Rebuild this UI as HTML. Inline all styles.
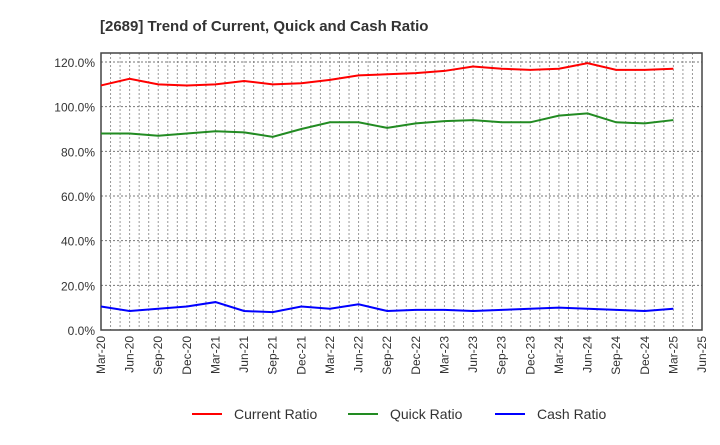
<!DOCTYPE html>
<html><head><meta charset="utf-8"><style>
body{margin:0;background:#fff;font-family:"Liberation Sans",Arial,sans-serif;}
svg text{font-family:"Liberation Sans",Arial,sans-serif;}
</style></head><body>
<svg id="chart" width="720" height="440" xmlns="http://www.w3.org/2000/svg">
<text x="100" y="31" font-size="15" font-weight="bold" fill="#333">[2689]  Trend of Current, Quick and Cash Ratio</text>
<g id="grid"></g>
<g id="axes"></g>
<g id="series"></g>
<g id="legend"></g>
</svg>
<script>
const categories=["Mar-20","Jun-20","Sep-20","Dec-20","Mar-21","Jun-21","Sep-21","Dec-21","Mar-22","Jun-22","Sep-22","Dec-22","Mar-23","Jun-23","Sep-23","Dec-23","Mar-24","Jun-24","Sep-24","Dec-24","Mar-25","Jun-25"];
const currentRatio=[109.5,112.5,110,109.5,110,111.5,110,110.5,112,114,114.5,115,116,118,117,116.5,117,119.5,116.5,116.5,117];
const quickRatio=[88,88,87,88,89,88.5,86.5,90,93,93,90.5,92.5,93.5,94,93,93,96,97,93,92.5,94];
const cashRatio=[10.5,8.5,9.5,10.5,12.5,8.5,8,10.5,9.5,11.5,8.5,9,9,8.5,9,9.5,10,9.5,9,8.5,9.5];
const yTicks=[0,20,40,60,80,100,120];
const seriesNames=["Current Ratio","Quick Ratio","Cash Ratio"];

const NS="http://www.w3.org/2000/svg";
const L=101,R=702,T=53,B=330;
const x=i=>L+i*(R-L)/(categories.length-1);
const y=v=>B-v*(B-62)/120;
function mk(tag,attrs,parent){const e=document.createElementNS(NS,tag);for(const k in attrs)e.setAttribute(k,attrs[k]);parent.appendChild(e);return e;}
const grid=document.getElementById('grid'),axes=document.getElementById('axes'),ser=document.getElementById('series'),leg=document.getElementById('legend');
// minor vertical grid (monthly)
for(let i=0;i<(categories.length-1)*3;i++){
  const xx=L+i*(R-L)/((categories.length-1)*3);
  if(i===0)continue;
  const g=mk('line',{x1:xx,x2:xx,y1:T,y2:B,stroke:'#999','stroke-dasharray':'2,2','stroke-width':1},grid);
  
  
}
yTicks.forEach(v=>{
  const g=mk('line',{x1:L,x2:R,y1:y(v),y2:y(v),stroke:'#777','stroke-dasharray':'2,2','stroke-width':1},grid);
  
  
  const t=mk('text',{x:L-6,y:y(v)+5,'text-anchor':'end','font-size':12,fill:'#333'},axes);
  t.textContent=v.toFixed(1)+'%';
  
  
});
categories.forEach((c,i)=>{
  const t=mk('text',{transform:`translate(${x(i)+4},${B+6}) rotate(-90)`,'text-anchor':'end','font-size':12,fill:'#333'},axes);
  t.textContent=c;
  
  
});
const frame=mk('rect',{x:L,y:T,width:R-L,height:B-T,fill:'none',stroke:'#444','stroke-width':1.5},axes);


const colors=['#ff0000','#228b22','#0000ff'];
[currentRatio,quickRatio,cashRatio].forEach((d,k)=>{
  const p=mk('polyline',{points:d.map((v,i)=>x(i)+','+y(v)).join(' '),fill:'none',stroke:colors[k],'stroke-width':2},ser);
  
  
});
const lx=[192,348,495];
seriesNames.forEach((n,k)=>{
  const g=mk('g',{},leg);
  
  
  mk('line',{x1:lx[k],x2:lx[k]+30,y1:414,y2:414,stroke:colors[k],'stroke-width':2},g);
  const t=mk('text',{x:lx[k]+42,y:419,'font-size':14,fill:'#333'},g);
  t.textContent=n;
});
</script>
</body></html>
